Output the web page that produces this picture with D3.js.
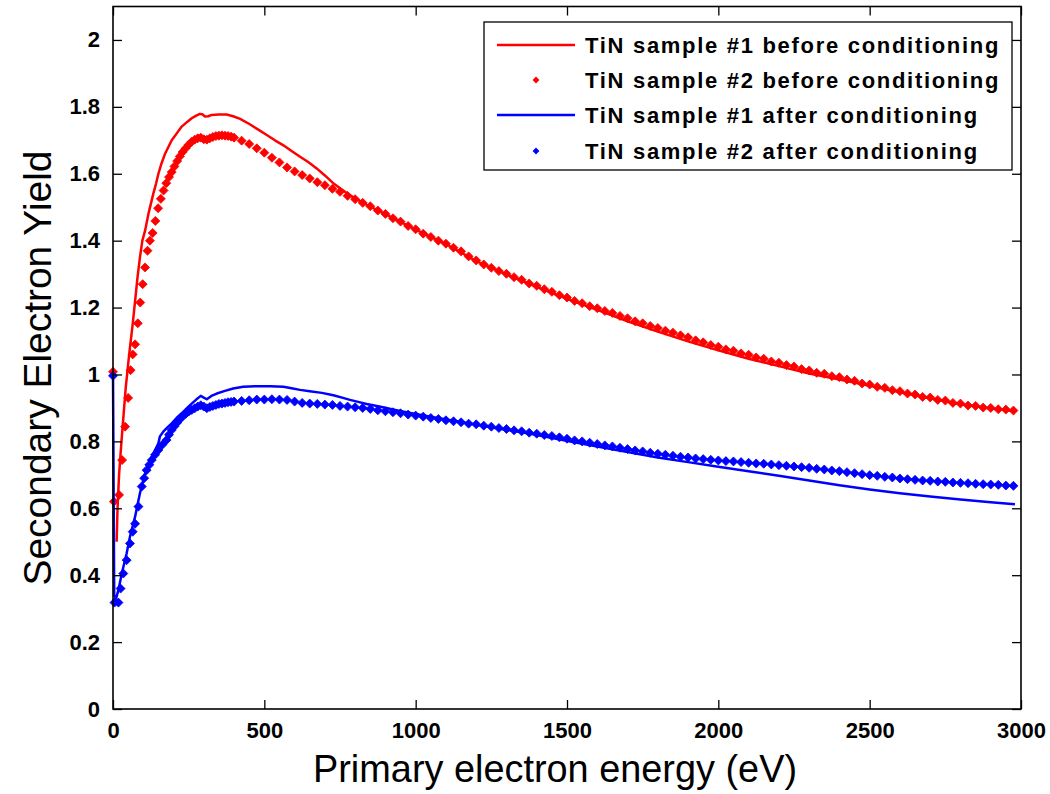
<!DOCTYPE html>
<html>
<head>
<meta charset="utf-8">
<script src="https://cdn.jsdelivr.net/npm/d3@7"></script>
<style>
  body { margin: 0; background: #fff; }
  svg { display: block; }
  text { font-family: Arial, "Liberation Sans", sans-serif; fill: #000; }
</style>
</head>
<body>
<svg id="chart" width="1050" height="794"></svg>
<script>
// ---- Data: secondary electron yield vs primary energy (eV) ----
// Sample #1 before conditioning (solid line)
const energy1Before = [12, 15, 20, 28, 35, 42, 50, 56, 65, 73, 81, 89, 97, 106, 117, 125, 133, 142, 150, 160, 172, 183, 194, 210, 227, 245, 260, 275, 287, 295, 304, 315, 326, 350, 375, 397, 420, 452, 480, 508, 535, 563, 590, 618, 645, 673, 700, 730, 780, 840, 900, 1000, 1100, 1200, 1300, 1400, 1500, 1600, 1700, 1800, 1900, 2000, 2100, 2200, 2300, 2400, 2500, 2600, 2700, 2800, 2900, 2980];
const yield1Before  = [0.50, 0.60, 0.70, 0.80, 0.88, 0.96, 1.03, 1.08, 1.15, 1.22, 1.29, 1.35, 1.40, 1.43, 1.48, 1.51, 1.54, 1.57, 1.60, 1.63, 1.66, 1.68, 1.70, 1.72, 1.741, 1.755, 1.766, 1.774, 1.779, 1.778, 1.771, 1.772, 1.776, 1.777, 1.777, 1.772, 1.764, 1.748, 1.732, 1.716, 1.700, 1.685, 1.668, 1.651, 1.635, 1.616, 1.595, 1.570, 1.537, 1.506, 1.479, 1.433, 1.390, 1.339, 1.299, 1.262, 1.226, 1.193, 1.159, 1.128, 1.099, 1.072, 1.047, 1.025, 1.003, 0.985, 0.966, 0.947, 0.929, 0.911, 0.898, 0.890];

// Sample #2 before conditioning (markers)
const energy2Before = [0, 3, 20, 30, 40, 50, 58, 65, 73, 82, 90, 98, 106, 114, 122, 131, 140, 149, 158, 167, 176, 185, 194, 203, 212, 221, 230, 240, 250, 260, 270, 280, 290, 300, 310, 320, 330, 340, 350, 360, 370, 380, 390, 400,
  425, 450, 475, 500, 525, 550, 575, 600, 625, 650, 675, 700, 725, 750, 775, 800, 825, 850, 875, 900, 925, 950, 975, 1000,
  1025, 1050, 1075, 1100, 1125, 1150, 1175, 1200, 1225, 1250, 1275, 1300, 1325, 1350, 1375, 1400, 1425, 1450, 1475, 1500,
  1525, 1550, 1575, 1600, 1625, 1650, 1675, 1700, 1725, 1750, 1775, 1800, 1825, 1850, 1875, 1900, 1925, 1950, 1975, 2000,
  2025, 2050, 2075, 2100, 2125, 2150, 2175, 2200, 2225, 2250, 2275, 2300, 2325, 2350, 2375, 2400, 2425, 2450, 2475, 2500,
  2525, 2550, 2575, 2600, 2625, 2650, 2675, 2700, 2725, 2750, 2775, 2800, 2825, 2850, 2875, 2900, 2925, 2950, 2975];
const yield2Before  = [1.008, 0.62, 0.64, 0.744, 0.844, 0.93, 1.013, 1.06, 1.09, 1.153, 1.215, 1.27, 1.32, 1.37, 1.40, 1.423, 1.459, 1.497, 1.525, 1.55, 1.572, 1.59, 1.605, 1.622, 1.638, 1.652, 1.665, 1.676, 1.687, 1.696, 1.702, 1.706, 1.708, 1.703, 1.702, 1.706, 1.710, 1.713, 1.714, 1.715, 1.714, 1.713, 1.711, 1.708,
  1.699, 1.689, 1.676, 1.663, 1.648, 1.634, 1.619, 1.607, 1.596, 1.586, 1.575, 1.566, 1.555, 1.546, 1.534, 1.524, 1.513, 1.503, 1.490, 1.480, 1.467, 1.457, 1.444, 1.434,
  1.421, 1.411, 1.400, 1.391, 1.379, 1.368, 1.353, 1.341, 1.329, 1.319, 1.309, 1.301, 1.291, 1.283, 1.272, 1.265, 1.255, 1.247, 1.237, 1.230,
  1.220, 1.213, 1.204, 1.198, 1.190, 1.184, 1.175, 1.168, 1.159, 1.153, 1.145, 1.139, 1.131, 1.125, 1.117, 1.111, 1.102, 1.096, 1.088, 1.083,
  1.075, 1.071, 1.063, 1.059, 1.051, 1.047, 1.039, 1.035, 1.028, 1.024, 1.016, 1.012, 1.005, 1.002, 0.995, 0.992, 0.985, 0.981, 0.973, 0.970,
  0.963, 0.960, 0.953, 0.950, 0.943, 0.940, 0.933, 0.931, 0.924, 0.922, 0.915, 0.913, 0.907, 0.906, 0.901, 0.900, 0.896, 0.895, 0.892];

// Sample #1 after conditioning (solid line)
const energy1After = [0, 4, 10, 18, 29, 45, 56, 73, 89, 106, 128, 150, 155, 166, 180, 194, 210, 227, 245, 260, 275, 290, 300, 310, 325, 343, 370, 397, 430, 470, 520, 563, 590, 618, 650, 690, 728, 760, 783, 810, 838, 880, 948, 1000, 1058, 1168, 1278, 1388, 1498, 1600, 1700, 1800, 1900, 2000, 2100, 2200, 2300, 2400, 2500, 2600, 2700, 2800, 2900, 2980];
const yield1After  = [1.00, 0.34, 0.33, 0.356, 0.405, 0.465, 0.515, 0.575, 0.645, 0.704, 0.754, 0.794, 0.815, 0.829, 0.842, 0.854, 0.870, 0.884, 0.900, 0.913, 0.925, 0.936, 0.931, 0.926, 0.936, 0.943, 0.951, 0.958, 0.963, 0.965, 0.965, 0.963, 0.959, 0.954, 0.950, 0.945, 0.938, 0.930, 0.924, 0.918, 0.912, 0.904, 0.891, 0.882, 0.872, 0.855, 0.838, 0.821, 0.802, 0.785, 0.768, 0.752, 0.738, 0.724, 0.711, 0.697, 0.683, 0.669, 0.656, 0.645, 0.635, 0.626, 0.618, 0.612];

// Sample #2 after conditioning (markers)
const energy2After = [0, 5, 18, 25, 34, 45, 56, 65, 73, 84, 95, 103, 111, 120, 128, 139, 150, 163, 177, 185, 194, 203, 212, 221, 230, 240, 250, 260, 270, 280, 290, 300, 310, 320, 330, 340, 350, 360, 370, 380, 390, 400,
  425, 450, 475, 500, 525, 550, 575, 600, 625, 650, 675, 700, 725, 750, 775, 800, 825, 850, 875, 900, 925, 950, 975, 1000,
  1025, 1050, 1075, 1100, 1125, 1150, 1175, 1200, 1225, 1250, 1275, 1300, 1325, 1350, 1375, 1400, 1425, 1450, 1475, 1500,
  1525, 1550, 1575, 1600, 1625, 1650, 1675, 1700, 1725, 1750, 1775, 1800, 1825, 1850, 1875, 1900, 1925, 1950, 1975, 2000,
  2025, 2050, 2075, 2100, 2125, 2150, 2175, 2200, 2225, 2250, 2275, 2300, 2325, 2350, 2375, 2400, 2425, 2450, 2475, 2500,
  2525, 2550, 2575, 2600, 2625, 2650, 2675, 2700, 2725, 2750, 2775, 2800, 2825, 2850, 2875, 2900, 2925, 2950, 2975];
const yield2After  = [0.996, 0.318, 0.318, 0.36, 0.405, 0.445, 0.495, 0.53, 0.554, 0.605, 0.665, 0.69, 0.714, 0.73, 0.744, 0.76, 0.774, 0.79, 0.804, 0.82, 0.834, 0.845, 0.856, 0.866, 0.875, 0.882, 0.889, 0.894, 0.899, 0.904, 0.908, 0.904, 0.899, 0.903, 0.906, 0.909, 0.912, 0.913, 0.915, 0.917, 0.918, 0.919,
  0.921, 0.923, 0.925, 0.925, 0.926, 0.925, 0.924, 0.919, 0.915, 0.913, 0.912, 0.910, 0.909, 0.906, 0.904, 0.902, 0.900, 0.897, 0.893, 0.890, 0.887, 0.884, 0.880, 0.877,
  0.874, 0.870, 0.867, 0.863, 0.860, 0.857, 0.853, 0.851, 0.847, 0.844, 0.840, 0.837, 0.833, 0.830, 0.826, 0.823, 0.819, 0.816, 0.812, 0.808,
  0.803, 0.800, 0.796, 0.792, 0.788, 0.785, 0.781, 0.777, 0.773, 0.770, 0.766, 0.763, 0.760, 0.757, 0.754, 0.752, 0.749, 0.747, 0.745, 0.743,
  0.741, 0.740, 0.738, 0.736, 0.734, 0.733, 0.731, 0.729, 0.727, 0.725, 0.723, 0.721, 0.718, 0.716, 0.713, 0.711, 0.708, 0.705, 0.702, 0.699,
  0.697, 0.694, 0.692, 0.689, 0.687, 0.685, 0.683, 0.682, 0.680, 0.679, 0.677, 0.676, 0.675, 0.673, 0.672, 0.671, 0.670, 0.668, 0.667];

const xTicks = [0, 500, 1000, 1500, 2000, 2500, 3000];
const yTicks = [0, 0.2, 0.4, 0.6, 0.8, 1, 1.2, 1.4, 1.6, 1.8, 2];
const yTickLabels = ["0", "0.2", "0.4", "0.6", "0.8", "1", "1.2", "1.4", "1.6", "1.8", "2"];

const seriesNames = [
  "TiN sample #1 before conditioning",
  "TiN sample #2 before conditioning",
  "TiN sample #1 after conditioning",
  "TiN sample #2 after conditioning"
];

// ---- Layout ----
const svg = d3.select("#chart");
const plotLeft = 113, plotRight = 1021, plotTop = 6.5, plotBottom = 709;

const x = d3.scaleLinear().domain([0, 3000]).range([plotLeft, plotRight]);
const y = d3.scaleLinear().domain([0, 2.1]).range([plotBottom, plotTop]);

const RED = "#ff0000", BLUE = "#0000ff";

const series = [
  { name: seriesNames[0], color: RED,  kind: "line",   pts: d3.zip(energy1Before, yield1Before) },
  { name: seriesNames[1], color: RED,  kind: "marker", pts: d3.zip(energy2Before, yield2Before) },
  { name: seriesNames[2], color: BLUE, kind: "line",   pts: d3.zip(energy1After, yield1After) },
  { name: seriesNames[3], color: BLUE, kind: "marker", pts: d3.zip(energy2After, yield2After) }
];

// Diamond marker path of half-diagonal r
const diamond = r => `M0,${-r}L${r},0L0,${r}L${-r},0Z`;

const plot = svg.append("g");
const lineGen = d3.line().x(d => x(d[0])).y(d => y(d[1]));

series.forEach(s => {
  if (s.kind === "line") {
    plot.append("path")
      .datum(s.pts)
      .attr("d", lineGen)
      .attr("fill", "none")
      .attr("stroke", s.color)
      .attr("stroke-width", 2.5)
      .attr("stroke-linejoin", "round");
  } else {
    plot.append("g")
      .selectAll("path")
      .data(s.pts)
      .join("path")
      .attr("transform", d => `translate(${x(d[0])},${y(d[1])})`)
      .attr("d", diamond(4.5))
      .attr("fill", s.color)
      .attr("stroke", s.color)
      .attr("stroke-width", 0.8);
  }
});

// ---- Axes (box with inward ticks) ----
const tickLen = 9;
const axisStyle = g => {
  g.select(".domain").remove();
  g.selectAll(".tick line").attr("stroke", "#000").attr("stroke-width", 1.3);
  g.selectAll(".tick text")
    .attr("font-size", 22)
    .attr("font-weight", "bold")
    .attr("font-family", "Arial, 'Liberation Sans', sans-serif")
    .attr("fill", "#000");
};

svg.append("g")
  .attr("transform", `translate(0,${plotBottom})`)
  .call(d3.axisBottom(x).tickValues(xTicks).tickSizeInner(-tickLen).tickSizeOuter(0).tickPadding(13).tickFormat(d3.format("d")))
  .call(axisStyle);

svg.append("g")
  .attr("transform", `translate(0,${plotTop})`)
  .call(d3.axisTop(x).tickValues(xTicks).tickSizeInner(-tickLen).tickSizeOuter(0).tickFormat(""))
  .call(axisStyle);

svg.append("g")
  .attr("transform", `translate(${plotLeft},0)`)
  .call(d3.axisLeft(y).tickValues(yTicks).tickSizeInner(-tickLen).tickSizeOuter(0).tickPadding(13)
    .tickFormat((d, i) => yTickLabels[i]))
  .call(axisStyle);

svg.append("g")
  .attr("transform", `translate(${plotRight},0)`)
  .call(d3.axisRight(y).tickValues(yTicks).tickSizeInner(-tickLen).tickSizeOuter(0).tickFormat(""))
  .call(axisStyle);

// Plot box
svg.append("rect")
  .attr("x", plotLeft).attr("y", plotTop)
  .attr("width", plotRight - plotLeft).attr("height", plotBottom - plotTop)
  .attr("fill", "none").attr("stroke", "#000").attr("stroke-width", 1.6);

// Axis titles
svg.append("text")
  .attr("x", 555).attr("y", 782)
  .attr("text-anchor", "middle")
  .attr("font-size", 39)
  .attr("textLength", 484)
  .attr("lengthAdjust", "spacingAndGlyphs")
  .text("Primary electron energy (eV)");

svg.append("text")
  .attr("transform", "translate(51,368) rotate(-90)")
  .attr("text-anchor", "middle")
  .attr("font-size", 39)
  .attr("textLength", 435)
  .attr("lengthAdjust", "spacingAndGlyphs")
  .text("Secondary Electron Yield");

// ---- Legend ----
const lg = svg.append("g");
lg.append("rect")
  .attr("x", 484).attr("y", 22).attr("width", 528).attr("height", 148)
  .attr("fill", "#fff").attr("stroke", "#000").attr("stroke-width", 1.3);

const rowY = [45, 80, 115, 151];
series.forEach((s, i) => {
  const ry = rowY[i];
  if (s.kind === "line") {
    lg.append("line")
      .attr("x1", 497).attr("x2", 575).attr("y1", ry).attr("y2", ry)
      .attr("stroke", s.color).attr("stroke-width", 2.5);
  } else {
    lg.append("path")
      .attr("transform", `translate(536,${ry})`)
      .attr("d", diamond(3.4))
      .attr("fill", s.color);
  }
  lg.append("text")
    .attr("x", 585).attr("y", ry)
    .attr("dy", "0.36em")
    .attr("font-size", 22)
    .attr("font-weight", "bold")
    .attr("letter-spacing", 1.7)
    .text(s.name);
});
</script>
</body>
</html>
